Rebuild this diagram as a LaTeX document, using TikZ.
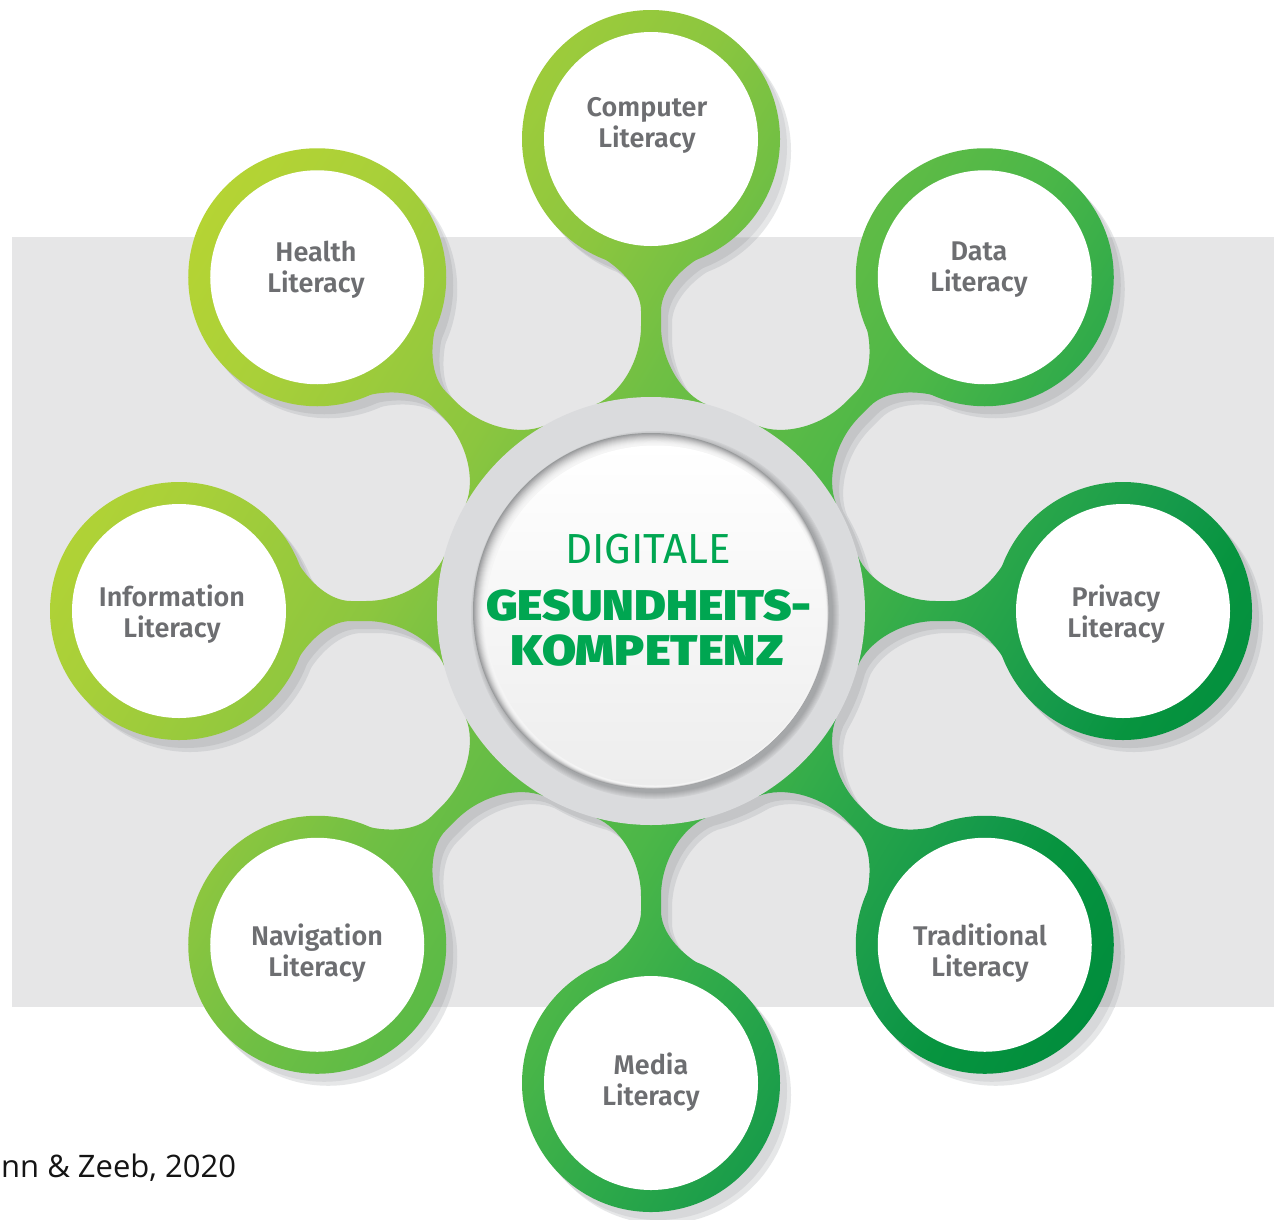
\documentclass[tikz,border=0pt]{standalone}
\usepackage{fontspec}
\usepackage{graphicx}
\usetikzlibrary{calc}
\setmainfont{Fira Sans}
\newfontfamily\labelfont{Fira Sans SemiBold}
\newfontfamily\hubfont{Fira Sans}
\newfontfamily\heavyfont{Fira Sans Black}
\newfontfamily\citefont{Open Sans}

\definecolor{bggray}{HTML}{E6E6E7}
\definecolor{labelgray}{HTML}{6D6E71}
\definecolor{hubgreen}{HTML}{00A651}
\definecolor{ringgray}{HTML}{DADBDD}
\definecolor{discgray}{HTML}{8E8F91}
\definecolor{shadeA}{HTML}{D3D4D6}
\definecolor{shadeB}{HTML}{C4C5C7}
\definecolor{shadeAw}{HTML}{E6E7E8}
\definecolor{shadeBw}{HTML}{D7D8DA}

\definecolor{g0}{HTML}{C6DB2C}
\definecolor{g1}{HTML}{B6D433}
\definecolor{g2}{HTML}{A9D039}
\definecolor{g3}{HTML}{A2CD3A}
\definecolor{g4}{HTML}{8CC63F}
\definecolor{g5}{HTML}{6FBF44}
\definecolor{g6}{HTML}{4CB748}
\definecolor{g7}{HTML}{2FAA4A}
\definecolor{g8}{HTML}{14994A}
\definecolor{g9}{HTML}{07943F}
\definecolor{g10}{HTML}{008C3C}
\definecolor{g11}{HTML}{008A3C}

% light-to-dark green running across the whole figure
\pgfdeclarehorizontalshading{greenflow}{100bp}{%
  color(0bp)=(g0); color(33bp)=(g1); color(37bp)=(g2); color(38.5bp)=(g3);
  color(43.3bp)=(g4); color(47bp)=(g5); color(53.6bp)=(g6); color(57.5bp)=(g7);
  color(62bp)=(g8); color(64bp)=(g9); color(68bp)=(g10); color(100bp)=(g11)}

\tikzset{
  satlabel/.style={text=labelgray, font=\labelfont\fontsize{27}{31}\selectfont,
    align=center, inner sep=0pt},
  hubtext/.style={anchor=base, text=hubgreen, inner sep=0pt},
}

% the star of stems joining the hub to the satellites
\newcommand\clipstar{\path[clip] (prv) -- (h1) -- (trd) -- (h2) -- (med) -- (h3) -- (nav) -- (h4)
  -- (inf) -- (h5) -- (hea) -- (h6) -- (com) -- (h7) -- (dat) -- (h8) -- cycle;}
% the eight rounded gaps between neighbouring stems, cut out under the even odd rule;
% each gap is drawn in a frame whose x axis bisects two neighbouring stems
\newcommand\holes[1]{\path[#1] (-300,-300) rectangle (1600,1600)
  \foreach \a in {22.5,67.5,...,337.5}{
    {[shift={(651,611)}, rotate=-\a]
     (0,0) -- (212.11,-28.33) .. controls (212.16,-54.32) and (234.80,-86.43) .. (267.14,-99.82)
     -- (280.99,-105.56) .. controls (301.32,-113.98) and (326.71,-102.85) .. (341.59,-92.79)
     -- (391.95,-59.40) -- (436.07,-180.62) -- (436.07,180.62) -- (391.95,59.40)
     -- (341.59,92.79) .. controls (326.71,102.85) and (301.32,113.98) .. (280.99,105.56)
     -- (267.14,99.82) .. controls (234.80,86.43) and (212.16,54.32) .. (212.11,28.33) -- cycle}
  };}
\newcommand\satdisks[1]{\path[#1] (prv) circle[radius=129] (trd) circle[radius=129] (med) circle[radius=129]
  (nav) circle[radius=129] (inf) circle[radius=129] (hea) circle[radius=129]
  (com) circle[radius=129] (dat) circle[radius=129];}

% solid silhouette of the green network plus the hub ring
\newcommand\silhouette[1]{%
  \begin{scope}[even odd rule]\clipstar
    \holes{fill=#1}
  \end{scope}
  \satdisks{fill=#1}
  \fill[#1] (O) circle[radius=214];
}
\newcommand\greenshade{\shade[shading=greenflow, transform canvas={rotate=-31}]
  (0,-3000) rectangle (1720,3000);}

\begin{document}
\begin{tikzpicture}[x=1pt,y=-1pt]
\useasboundingbox (0,0) rectangle (1274,1219);
\clip (0,0) rectangle (1274,1219);

% background
\fill[white] (0,0) rectangle (1274,1219);
\fill[bggray] (12,237) rectangle (1274,1007);

% hub, satellite centres and the star's inner vertices
\coordinate (O) at (651,611);
\coordinate (prv) at ($(O)+(0:472)$);
\coordinate (trd) at ($(O)+(45:472)$);
\coordinate (med) at ($(O)+(90:472)$);
\coordinate (nav) at ($(O)+(135:472)$);
\coordinate (inf) at ($(O)+(180:472)$);
\coordinate (hea) at ($(O)+(225:472)$);
\coordinate (com) at ($(O)+(270:472)$);
\coordinate (dat) at ($(O)+(315:472)$);
\foreach \k in {1,...,8} \coordinate (h\k) at ($(O)+({-22.5+45*\k}:335)$);

% soft drop shadow, darker on the grey band, lighter on white
\begin{scope}
  \clip (12,237) rectangle (1274,1007);
  \begin{scope}[transform canvas={shift={(11,12)}}]\silhouette{shadeA}\end{scope}
  \begin{scope}[transform canvas={shift={(7,8)}}]\silhouette{shadeB}\end{scope}
\end{scope}
\begin{scope}[even odd rule]
  \clip (-10,-10) rectangle (1290,1230) (12,237) rectangle (1290,1007);
  \begin{scope}[nonzero rule, transform canvas={shift={(11,12)}}]\silhouette{shadeAw}\end{scope}
  \begin{scope}[nonzero rule, transform canvas={shift={(7,8)}}]\silhouette{shadeBw}\end{scope}
\end{scope}

% green stems
\begin{scope}[even odd rule]
  \clipstar
  \holes{clip}
  \greenshade
\end{scope}
% green satellite rings
\begin{scope}
  \satdisks{clip}
  \greenshade
\end{scope}
\foreach \n in {prv,trd,med,nav,inf,hea,com,dat}
  \fill[white] (\n) circle[radius=107];

% hub: grey ring and recessed disc
\fill[ringgray] (O) circle[radius=214];
\foreach \i in {0,...,6}{
  \pgfmathsetmacro\c{15+\i*9}
  \fill[discgray!\c!ringgray] ($(O)+(4,4)$) circle[radius={184-\i}];
}
\foreach \i in {0,...,12}{
  \pgfmathsetmacro\c{85*(1-\i/12)^1.6}
  \fill[discgray!\c!white!96!black] ($(O)+(0.35*\i,0.35*\i)$) circle[radius={178-0.55*\i}];
}
\shade[top color=white, bottom color=white!93!black]
  ($(O)+(4.5,4.5)$) circle[radius=170];

% hub title
\node[hubtext, font=\hubfont\fontsize{42}{42}\selectfont] (t1) at (648,563) {DIGITALE};
\node[hubtext, font=\heavyfont\fontsize{43}{43}\selectfont] (t2) at (649,620)
  {\scalebox{1.13}[1]{GESUNDHEITS-}};
\node[hubtext, font=\heavyfont\fontsize{43}{43}\selectfont] (t3) at (647,665)
  {\scalebox{1.15}[1]{KOMPETENZ}};

% satellite labels
\node[satlabel] (l-com) at (647,125) {Computer\\Literacy};
\node[satlabel] (l-hea) at (316,270) {Health\\Literacy};
\node[satlabel] (l-dat) at (979,270) {Data\\Literacy};
\node[satlabel] (l-inf) at (172,614) {Information\\Literacy};
\node[satlabel] (l-prv) at (1116,614) {Privacy\\Literacy};
\node[satlabel] (l-nav) at (317,953) {Navigation\\Literacy};
\node[satlabel] (l-trd) at (980,953) {Traditional\\Literacy};
\node[satlabel] (l-med) at (651,1082) {Media\\Literacy};

% source line
\node[anchor=base west, inner sep=0pt, text=black!92, font=\citefont\fontsize{31}{31}\selectfont]
  (src) at (1,1177) {nn \& Zeeb, 2020};
\end{tikzpicture}
\end{document}
